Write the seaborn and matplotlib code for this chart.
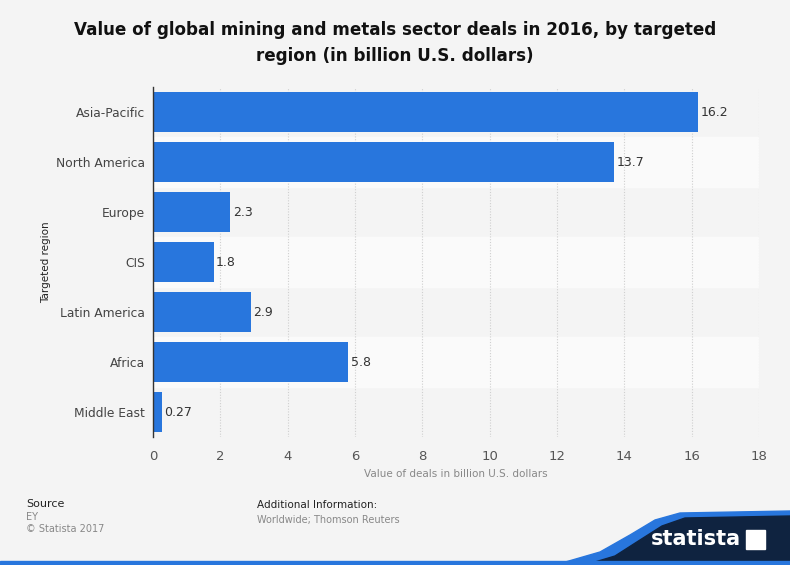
import matplotlib
matplotlib.use("Agg")
import matplotlib.pyplot as plt
import seaborn as sns
import pandas as pd
from matplotlib.patches import Polygon, Rectangle

regions = ["Asia-Pacific", "North America", "Europe", "CIS", "Latin America", "Africa", "Middle East"]
values = [16.2, 13.7, 2.3, 1.8, 2.9, 5.8, 0.27]
labels = ["16.2", "13.7", "2.3", "1.8", "2.9", "5.8", "0.27"]
xticks = [0, 2, 4, 6, 8, 10, 12, 14, 16, 18]

sns.set_theme(style="white")
plt.rcParams['font.family'] = ['DejaVu Sans']

df = pd.DataFrame({"region": regions, "value": values})

fig = plt.figure(figsize=(7.9, 5.65), dpi=100)
fig.patch.set_facecolor("#f4f4f4")
ax = fig.add_axes([153/790, 1-437/565, (759-153)/790, (437-87)/565])
ax.set_facecolor("#f4f4f4")

for i in range(len(regions)):
    if i % 2 == 1:
        ax.axhspan(i-0.5, i+0.5, color="#fafafa", zorder=0)

sns.barplot(data=df, x="value", y="region", orient="h", color="#2876dd",
            saturation=1, width=0.8, ax=ax, zorder=3, linewidth=0)

for i, (v, t) in enumerate(zip(values, labels)):
    ax.text(v + 0.07, i, t, va="center", ha="left", fontsize=9, color="#333333", zorder=4)

ax.set_xlim(0, 18)
ax.set_ylim(len(regions)-0.5, -0.5)
ax.set_xticks(xticks)
ax.set_xticklabels([str(x) for x in xticks])
ax.xaxis.grid(True, color="#cfcfcf", linestyle=(0, (1, 1.5)), linewidth=0.8)
ax.set_axisbelow(True)
for s in ["top", "right", "bottom"]:
    ax.spines[s].set_visible(False)
ax.spines["left"].set_color("#333333")
ax.spines["left"].set_linewidth(1)
ax.spines["left"].set_zorder(5)
ax.tick_params(axis="x", length=0, labelsize=9.5, colors="#555555", pad=9)
ax.tick_params(axis="y", length=0, labelsize=8.8, colors="#444444", pad=6)
ax.set_xlabel("Value of deals in billion U.S. dollars", fontsize=7.5, color="#888888", labelpad=5)
ax.set_ylabel("Targeted region", fontsize=7.5, color="#222222", labelpad=3)

fig.text(0.5, 1-30/565, "Value of global mining and metals sector deals in 2016, by targeted",
         ha="center", va="center", fontsize=12.1, fontweight="bold", color="#111111")
fig.text(0.5, 1-56/565, "region (in billion U.S. dollars)",
         ha="center", va="center", fontsize=12.1, fontweight="bold", color="#111111")

fig.text(26/790, 1-504/565, "Source", fontsize=8, color="#222222", va="center")
fig.text(26/790, 1-517/565, "EY", fontsize=7, color="#888888", va="center")
fig.text(26/790, 1-529/565, "© Statista 2017", fontsize=7, color="#888888", va="center")
fig.text(257/790, 1-505/565, "Additional Information:", fontsize=7.5, color="#222222", va="center")
fig.text(257/790, 1-520/565, "Worldwide; Thomson Reuters", fontsize=7, color="#888888", va="center")

# footer swoosh
pts_blue = [(555, 565), (600, 552), (630, 535), (655, 520), (680, 513), (790, 511), (790, 565)]
pts_navy = [(585, 565), (615, 556), (640, 540), (662, 526), (685, 518), (790, 516), (790, 565)]
fig.patches.append(Polygon([(x/790, 1-y/565) for x, y in pts_blue], closed=True,
                           transform=fig.transFigure, color="#2876dd", zorder=1))
fig.patches.append(Polygon([(x/790, 1-y/565) for x, y in pts_navy], closed=True,
                           transform=fig.transFigure, color="#0f2340", zorder=2))
fig.patches.append(Rectangle((0, 0), 1, 4/565, transform=fig.transFigure, color="#2876dd", zorder=3))
fig.text(741/790, 1-539/565, "statista", fontsize=15, fontweight="bold", color="white",
         ha="right", va="center", zorder=5)
fig.patches.append(Rectangle((746/790, 1-549/565), 19/790, 19/565, transform=fig.transFigure,
                             color="white", zorder=4))

fig.savefig("out.png", dpi=100, facecolor=fig.get_facecolor())
